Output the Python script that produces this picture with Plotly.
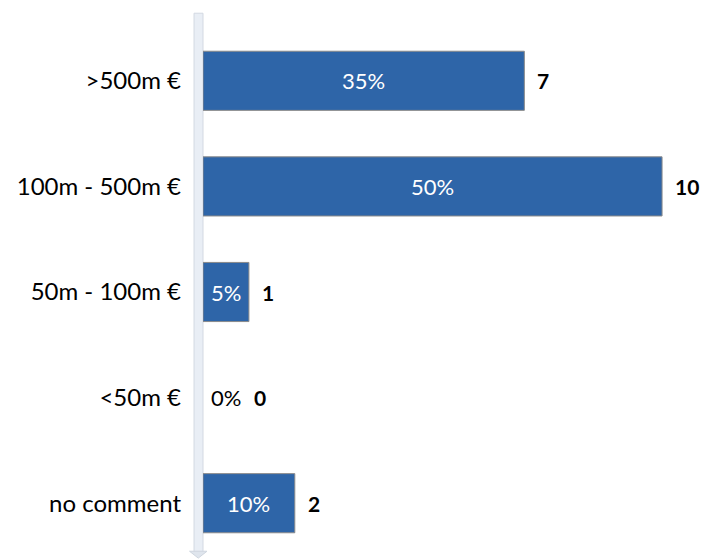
import plotly.graph_objects as go

# Survey responses by revenue band
categories = [">500m €", "100m - 500m €", "50m - 100m €", "<50m €", "no comment"]
counts = [7, 10, 1, 0, 2]
percent_labels = ["35%", "50%", "5%", "0%", "10%"]

BAR_COLOR = "#2e65a8"
FONT = "Lato, 'Open Sans', sans-serif"

fig = go.Figure()
fig.add_trace(go.Bar(
    y=categories,
    x=counts,
    orientation="h",
    width=0.56,
    marker=dict(color=BAR_COLOR,
                line=dict(color="#8a8a8a", width=[1 if n > 0 else 0 for n in counts])),
    hoverinfo="skip",
))

annotations = []
for cat, n, pct in zip(categories, counts, percent_labels):
    if n > 0:
        # percentage centred inside the bar, count just past its end
        annotations.append(dict(x=n / 2, y=cat, text=pct, showarrow=False,
                                font=dict(family=FONT, size=22, color="white")))
        annotations.append(dict(x=n, y=cat, text=f"<b>{n}</b>", showarrow=False,
                                xanchor="left", xshift=11,
                                font=dict(family=FONT, size=21, color="black")))
    else:
        # empty bar: percentage sits outside, count follows it
        annotations.append(dict(x=0, y=cat, text=pct, showarrow=False,
                                xanchor="left", xshift=6,
                                font=dict(family=FONT, size=22, color="black")))
        annotations.append(dict(x=0, y=cat, text=f"<b>{n}</b>", showarrow=False,
                                xanchor="left", xshift=49,
                                font=dict(family=FONT, size=21, color="black")))

shapes = [
    # vertical category axis band
    dict(type="rect", xref="paper", yref="paper",
         x0=-0.018, x1=0.0, y0=0.004, y1=1.028,
         fillcolor="#e9eef5", line=dict(color="#d3d9e2", width=1), layer="below"),
    # arrow head at the bottom of the axis
    dict(type="path", xref="paper", yref="paper",
         path="M -0.027 0.009 L 0.008 0.009 L -0.0095 -0.004 Z",
         fillcolor="#dfe5ed", line=dict(color="#cfd6df", width=1)),
]

fig.update_layout(
    width=702, height=560,
    margin=dict(l=203, r=0, t=28, b=4),
    plot_bgcolor="white", paper_bgcolor="white",
    showlegend=False,
    bargap=0.44,
    annotations=annotations,
    shapes=shapes,
    xaxis=dict(range=[0, 10.87], visible=False, fixedrange=True),
    yaxis=dict(categoryorder="array", categoryarray=categories[::-1],
               showgrid=False, zeroline=False, showline=False, ticks="",
               ticklabelstandoff=21,
               tickfont=dict(family=FONT, size=24, color="black")),
)

fig.write_html("out.html")
